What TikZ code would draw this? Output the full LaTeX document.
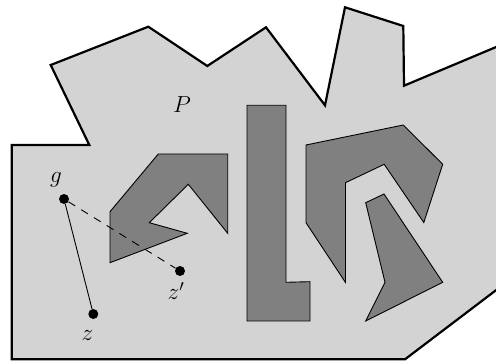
\documentclass[tikz,border=0pt]{standalone}
\usepackage{graphicx}
\newcommand{\biglab}[1]{\scalebox{1.12}{#1}}
\begin{document}
\begin{tikzpicture}[x=1pt,y=-1pt,
  outer/.style={fill=lightfill,draw=black,line width=2.2pt,line join=miter},
  obst/.style={fill=darkfill,draw=black,line width=0.9pt,line join=miter},
  dot/.style={circle,fill=black,inner sep=0pt,minimum size=10pt},
  lab/.style={font=\fontsize{20.74}{25}\selectfont,inner sep=0pt},
  seg/.style={line width=0.9pt}]
\definecolor{lightfill}{HTML}{D3D3D3}
\definecolor{darkfill}{HTML}{808080}
\useasboundingbox (0,0) rectangle (496,363);
\begin{scope}
\clip (0,0) rectangle (496,363);
\draw[outer] (50.7,65) -- (148.3,26.7) -- (207.3,66) -- (266,27.3) -- (325,105.3)
  -- (345,7.3) -- (403.3,26) -- (404,85.7) -- (520,37) -- (520,272)
  -- (405,359.3) -- (11.7,359.3) -- (11.7,145) -- (89.3,145) -- cycle;
\end{scope}
% obstacles
\draw[obst] (158.3,154) -- (227.7,154) -- (227.7,233.3) -- (188.3,184.3)
  -- (149.3,222.7) -- (187.3,233.3) -- (110,262.7) -- (110,211.7) -- cycle;
\draw[obst] (247,105.3) -- (286,105.3) -- (286,282.3) -- (310,281.7)
  -- (310,321) -- (247,321) -- cycle;
\draw[obst] (306,145) -- (403.3,125) -- (442.7,164.3) -- (423.8,222.5)
  -- (384.2,164.3) -- (345.5,182.7) -- (345.5,282.5) -- (306,222.7) -- cycle;
\draw[obst] (365.7,202.7) -- (384,194) -- (442.7,282.3) -- (365.7,321)
  -- (385,282.3) -- cycle;
% points
\node[dot] (g) at (64,199) {};
\node[dot] (zp) at (180,271) {};
\node[dot] (z) at (93.3,314) {};
\draw[seg] (g) -- (z);
\draw[seg,dash pattern=on 8pt off 7pt] (g) -- (zp);
\node[lab] (lg) at (56,180) {\biglab{$g$}};
\node[lab] (lzp) at (176,291) {\biglab{$z'$}};
\node[lab] (lz) at (87.5,336) {\biglab{$z$}};
\node[lab] (lP) at (182,105) {\biglab{$P$}};
\end{tikzpicture}
\end{document}
